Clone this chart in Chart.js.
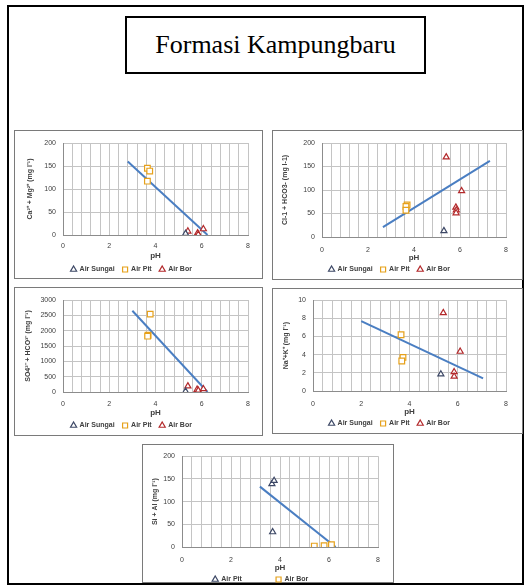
<!DOCTYPE html>
<html>
<head>
<meta charset="utf-8">
<script src="https://cdn.jsdelivr.net/npm/chart.js@4.4.1/dist/chart.umd.min.js"></script>
<style>
  body { margin: 0; background: #fff; }
  #frame { position: absolute; left: 7px; top: 5px; width: 517px; height: 580px; box-sizing: border-box; border: 2px solid #000; }
  #title { position: absolute; left: 125px; top: 16px; width: 301px; height: 58px; box-sizing: border-box; border: 2px solid #000;
           font: 26px "Liberation Serif", "Times New Roman", serif; text-align: center; line-height: 54px; color: #000; }
  .box { position: absolute; box-sizing: border-box; border: 1px solid #7a7a7a; background: #fff; }
  canvas { position: absolute; }
</style>
</head>
<body>
<div id="frame"></div>
<div id="title">Formasi Kampungbaru</div>

<script>
// tick labels shown on every pH axis
const xTicks = [0, 2, 4, 6, 8];

// Ca + Mg
const caPhSungai = [5.3];
const caValSungai = [3];
const caPhPit = [3.65, 3.75, 3.65];
const caValPit = [145, 139, 117];
const caPhBor = [5.4, 5.82, 5.85, 6.07];
const caValBor = [8, 4, 1, 13];
const caTrendPh = [2.8, 6.25];
const caTrendVal = [160, 0];

// Cl + HCO3
const clPhSungai = [5.3];
const clValSungai = [13];
const clPhPit = [3.7, 3.65, 3.65];
const clValPit = [68, 65, 57];
const clPhBor = [5.4, 6.07, 5.82, 5.84, 5.83];
const clValBor = [170, 98, 63, 57, 51];
const clTrendPh = [2.65, 7.3];
const clTrendVal = [21, 162];

// SO4 + HCO3
const soPhSungai = [5.3];
const soValSungai = [20];
const soPhPit = [3.77, 3.68, 3.66];
const soValPit = [2540, 1850, 1820];
const soPhBor = [5.4, 5.8, 5.85, 6.07];
const soValBor = [190, 80, 50, 100];
const soTrendPh = [3.0, 6.25];
const soTrendVal = [2650, 0];

// Na + K
const naPhSungai = [5.3];
const naValSungai = [1.85];
const naPhPit = [3.65, 3.73, 3.68];
const naValPit = [6.2, 3.7, 3.3];
const naPhBor = [5.4, 6.1, 5.85, 5.85];
const naValBor = [8.6, 4.35, 2.1, 1.6];
const naTrendPh = [2.0, 7.05];
const naTrendVal = [7.7, 1.4];

// Si + Al
const siPhPit = [3.67, 3.76, 3.7];
const siValPit = [139, 146, 33];
const siPhBor = [5.4, 5.8, 6.1];
const siValBor = [2, 3, 5];
const siTrendPh = [3.18, 6.27];
const siTrendVal = [133, 0];

const cSungai = "#3d4866";
const cPit = "#e6a11b";
const cBor = "#b3292b";
const cTrend = "#4a7ec2";
const font = "'Liberation Sans', Arial, sans-serif";

const pts = (xs, ys) => xs.map((x, i) => ({ x: x, y: ys[i] }));

const markers = function (label, xs, ys, color, style, r) {
  return {
    label: label,
    data: pts(xs, ys),
    pointStyle: style,
    pointRadius: r,
    pointBorderWidth: 1.2,
    borderColor: color,
    backgroundColor: "#fff",
    pointBorderColor: color,
    pointBackgroundColor: "#fff",
  };
};

const trend = function (xs, ys) {
  return {
    label: "trend",
    data: pts(xs, ys),
    showLine: true,
    borderColor: cTrend,
    borderWidth: 2,
    pointRadius: 0,
  };
};

function makeChart(g) {
  const box = document.createElement("div");
  box.className = "box";
  box.style.left = g.box[0] + "px";
  box.style.top = g.box[1] + "px";
  box.style.width = g.box[2] + "px";
  box.style.height = g.box[3] + "px";
  document.body.appendChild(box);

  const fs = 7, legPad = 8;
  const cl = g.box[0] + 1, ct = g.box[1] + 1, cw = g.box[2] - 2;
  const legH = fs + legPad + 10;
  const ch = Math.round(g.legCY - legPad - fs / 2 + legH - ct);
  const legTop = ct + ch - legH;

  const cv = document.createElement("canvas");
  cv.width = cw;
  cv.height = ch;
  cv.style.left = cl + "px";
  cv.style.top = ct + "px";
  document.body.appendChild(cv);

  new Chart(cv, {
    type: "scatter",
    data: { datasets: g.datasets },
    options: {
      responsive: false,
      animation: false,
      layout: { padding: { top: g.plot[1] - ct, right: cl + cw - g.plot[2], left: 0, bottom: 0 } },
      plugins: {
        tooltip: { enabled: false },
        legend: {
          position: "bottom",
          labels: {
            usePointStyle: true,
            boxWidth: 5,
            boxHeight: 5,
            padding: legPad,
            color: "#404040",
            font: { family: font, size: fs, weight: "bold" },
            filter: (item) => item.text !== "trend",
          },
        },
      },
      scales: {
        x: {
          type: "linear",
          min: 0,
          max: 8,
          afterFit: (s) => { s.height = legTop - g.plot[3]; },
          grid: { color: "#c4c4c4", drawTicks: false },
          border: { color: "#8c8c8c" },
          ticks: {
            stepSize: 0.4,
            autoSkip: false,
            maxRotation: 0,
            padding: g.tickCY - g.plot[3] - 3.5,
            color: "#404040",
            font: { family: font, size: 7 },
            callback: (v) => (xTicks.includes(Math.round(v * 10) / 10) ? String(Math.round(v)) : ""),
          },
          title: {
            display: true,
            text: "pH",
            color: "#404040",
            font: { family: font, size: 8, weight: "bold" },
            padding: { top: 0, bottom: legTop - g.phCY - 4.8 },
          },
        },
        y: {
          min: 0,
          max: g.yMax,
          afterFit: (s) => { s.width = g.plot[0] - cl; },
          grid: { color: "#c4c4c4", drawTicks: false },
          border: { color: "#8c8c8c" },
          ticks: {
            stepSize: g.yStep,
            padding: 7,
            color: "#404040",
            font: { family: font, size: 7 },
            callback: (v) => String(v),
          },
          title: {
            display: true,
            text: g.yTitle,
            color: "#404040",
            font: { family: font, size: 7, weight: "bold" },
            padding: { top: g.yTitleX - cl - 4.2, bottom: 0 },
          },
        },
      },
    },
  });
}

makeChart({
  box: [14, 130, 249, 149], plot: [63, 143, 248, 235],
  tickCY: 245, phCY: 256, legCY: 269, yTitleX: 30,
  yMax: 200, yStep: 50, yTitle: "Ca²⁺ + Mg²⁺ (mg l⁻¹)",
  datasets: [
    markers("Air Sungai", caPhSungai, caValSungai, cSungai, "triangle", 3.5),
    markers("Air Pit", caPhPit, caValPit, cPit, "rect", 4),
    markers("Air Bor", caPhBor, caValBor, cBor, "triangle", 3.5),
    trend(caTrendPh, caTrendVal),
  ],
});

makeChart({
  box: [272, 130, 251, 150], plot: [322, 143, 506, 237],
  tickCY: 249, phCY: 258, legCY: 269, yTitleX: 285,
  yMax: 200, yStep: 50, yTitle: "Cl-1 + HCO3- (mg l-1)",
  datasets: [
    markers("Air Sungai", clPhSungai, clValSungai, cSungai, "triangle", 3.5),
    markers("Air Pit", clPhPit, clValPit, cPit, "rect", 4),
    markers("Air Bor", clPhBor, clValBor, cBor, "triangle", 3.5),
    trend(clTrendPh, clTrendVal),
  ],
});

makeChart({
  box: [14, 287, 249, 149], plot: [63, 300, 248, 392],
  tickCY: 403, phCY: 413, legCY: 425, yTitleX: 28,
  yMax: 3000, yStep: 500, yTitle: "SO4²⁻ + HCO³⁻ (mg l⁻¹)",
  datasets: [
    markers("Air Sungai", soPhSungai, soValSungai, cSungai, "triangle", 3.5),
    markers("Air Pit", soPhPit, soValPit, cPit, "rect", 4),
    markers("Air Bor", soPhBor, soValBor, cBor, "triangle", 3.5),
    trend(soTrendPh, soTrendVal),
  ],
});

makeChart({
  box: [272, 288, 251, 146], plot: [313, 299, 506, 391],
  tickCY: 403, phCY: 412, legCY: 423, yTitleX: 286,
  yMax: 10, yStep: 2, yTitle: "Na⁺+K⁺ (mg l⁻¹)",
  datasets: [
    markers("Air Sungai", naPhSungai, naValSungai, cSungai, "triangle", 3.5),
    markers("Air Pit", naPhPit, naValPit, cPit, "rect", 4),
    markers("Air Bor", naPhBor, naValBor, cBor, "triangle", 3.5),
    trend(naTrendPh, naTrendVal),
  ],
});

makeChart({
  box: [142, 444, 252, 139], plot: [182, 455, 378, 547],
  tickCY: 559, phCY: 568, legCY: 579, yTitleX: 155,
  yMax: 200, yStep: 50, yTitle: "Si + Al (mg l⁻¹)",
  datasets: [
    markers("Air Pit", siPhPit, siValPit, cSungai, "triangle", 3.5),
    { label: "     ", data: [], pointStyle: "line", borderColor: "rgba(0,0,0,0)", backgroundColor: "rgba(0,0,0,0)" },
    markers("Air Bor", siPhBor, siValBor, cPit, "rect", 4),
    trend(siTrendPh, siTrendVal),
  ],
});
</script>
</body>
</html>
